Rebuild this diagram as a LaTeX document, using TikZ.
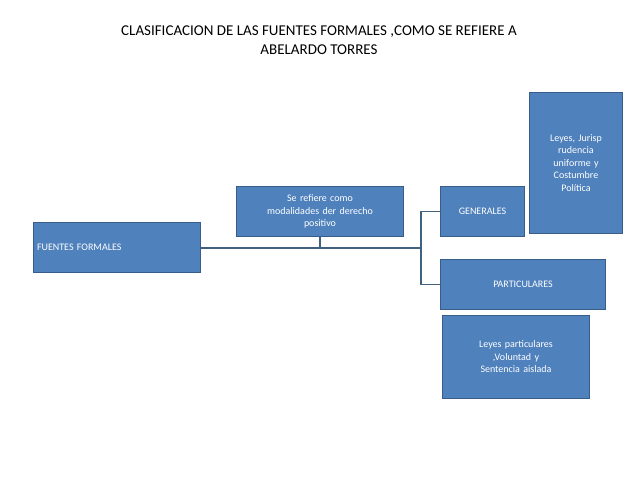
\documentclass[tikz,border=0pt]{standalone}
\usepackage{fontspec}
\setmainfont{Carlito}
\begin{document}
\begin{tikzpicture}[x=1pt,y=-1pt,
  box/.style={draw=boxline,fill=boxfill,line width=1pt,text=white,font=\fontsize{10}{12.5}\selectfont,align=center,inner sep=2pt},
  conn/.style={draw=connc,line width=1.5pt}]
\definecolor{boxfill}{HTML}{4F81BD}
\definecolor{boxline}{HTML}{385D8A}
\definecolor{connc}{HTML}{41627F}
\useasboundingbox (0,0) rectangle (638,479);
\node[font=\fontsize{15}{19}\selectfont,align=center] (title) at (319,40) {CLASIFICACION DE LAS FUENTES FORMALES ,COMO SE REFIERE A\\ABELARDO TORRES};
\node[box,minimum width=167pt,minimum height=50pt,align=left,anchor=north west,text width=160pt] (ff) at (33,222) {FUENTES FORMALES};
\node[box,minimum width=167pt,minimum height=50pt,anchor=north west,text width=160pt] (se) at (236,186) {Se refiere como\\modalidades der derecho\\positivo};
\node[box,minimum width=84pt,minimum height=50pt,anchor=north west,text width=80pt] (gen) at (440,186) {GENERALES};
\node[box,minimum width=165pt,minimum height=50pt,anchor=north west,text width=160pt] (par) at (440,259) {PARTICULARES};
\node[box,minimum width=93pt,minimum height=141pt,anchor=north west,text width=80pt] (ley) at (529,92) {Leyes, Jurisp\\rudencia\\uniforme y\\Costumbre\\Política};
\node[box,minimum width=147pt,minimum height=83pt,anchor=north west,text width=140pt] (lp) at (442,315) {Leyes particulares\\,Voluntad y\\Sentencia aislada};
\coordinate (j) at (421,248);
\draw[conn] (ff.east|-j) -- (j);
\draw[conn] (se.south) -- (se.south|-j);
\draw[conn] (gen.west) -| (j) |- (par.west);
\end{tikzpicture}
\end{document}
